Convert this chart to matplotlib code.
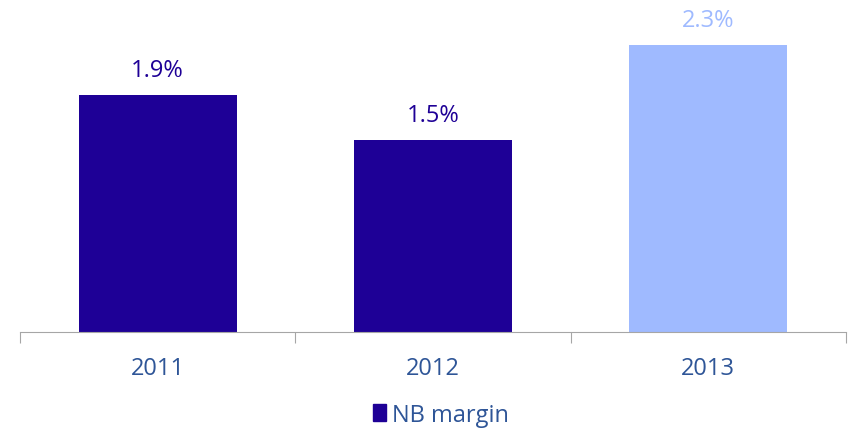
import matplotlib.pyplot as plt
from matplotlib.patches import Patch

years = ["2011", "2012", "2013"]
nb_margin = [1.9, 1.54, 2.3]
bar_colors = ["#1e0096", "#1e0096", "#9fbaff"]
label_colors = ["#1e0096", "#1e0096", "#9fbaff"]

plt.rcParams["font.family"] = ["Open Sans", "DejaVu Sans"]

fig = plt.figure(figsize=(8.52, 4.31), dpi=100)
ax = fig.add_axes([20 / 852, (431 - 333) / 431, 826 / 852, 333 / 431])

x = range(len(years))
bars = ax.bar(x, nb_margin, width=0.575, color=bar_colors, zorder=2)
for rect, v, c in zip(bars, nb_margin, label_colors):
    ax.annotate(f"{v:.1f}%", (rect.get_x() + rect.get_width() / 2, v),
                xytext=(0, 19), textcoords="offset pixels",
                ha="center", va="baseline", fontsize=17, color=c)

ax.set_xlim(-0.5, 2.5)
ax.set_ylim(0, 2.669)
for s in ("top", "right", "left"):
    ax.spines[s].set_visible(False)
ax.spines["bottom"].set_color("#a6a6a6")
ax.spines["bottom"].set_zorder(3)
ax.set_yticks([])

# category boundaries carry the tick marks, labels sit between them
ax.set_xticks([-0.5, 0.5, 1.5, 2.5])
ax.set_xticklabels([])
ax.tick_params(axis="x", which="major", length=8, color="#a6a6a6")
ax.set_xticks(list(x), minor=True)
ax.set_xticklabels(years, minor=True, fontsize=17, color="#2e5597")
ax.tick_params(axis="x", which="minor", length=0, pad=17)

fig.legend(handles=[Patch(color="#1e0096", label="NB margin")],
           loc="center", bbox_to_anchor=(0.518, 1 - 416 / 431), frameon=False,
           handlelength=0.55, handleheight=0.75, handletextpad=0.25,
           prop={"size": 17}, labelcolor="#2e5597")

fig.savefig("out.png", dpi=100)
